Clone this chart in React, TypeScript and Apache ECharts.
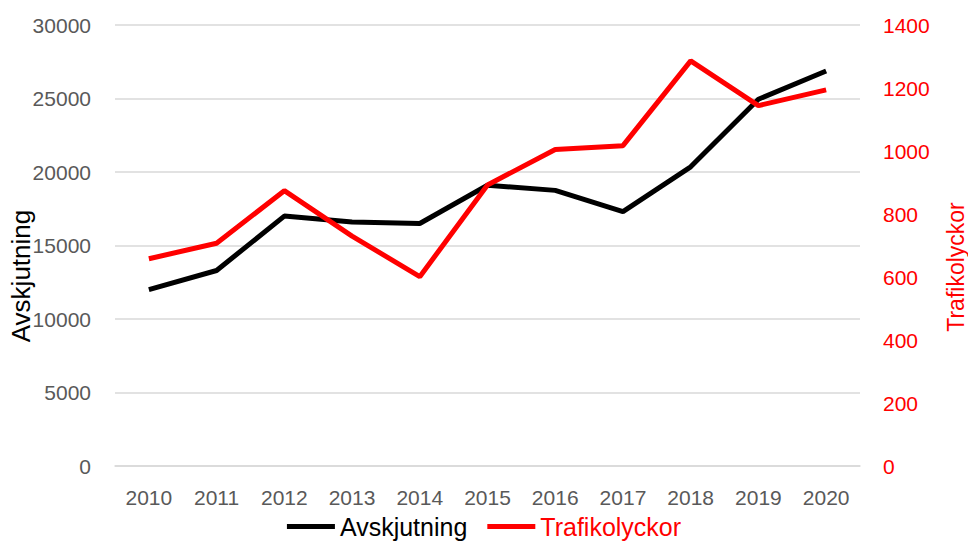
import React, { useEffect, useRef } from "react";
import * as echarts from "echarts";

const years = ["2010", "2011", "2012", "2013", "2014", "2015", "2016", "2017", "2018", "2019", "2020"];
const avskjutning = [12000, 13300, 17000, 16600, 16500, 19100, 18750, 17300, 20350, 24950, 26870];
const trafikolyckor = [658, 707, 874, 730, 601, 892, 1005, 1017, 1286, 1144, 1194];

const FONT = "'Liberation Sans', Arial, sans-serif";

export default function App() {
  const ref = useRef<HTMLDivElement>(null);
  useEffect(() => {
    if (!ref.current) return;
    const chart = echarts.init(ref.current, undefined, { renderer: "svg" });
    chart.setOption({
      animation: false,
      backgroundColor: "#ffffff",
      textStyle: { fontFamily: FONT },
      grid: { left: 115, right: 108, top: 25, bottom: 76, containLabel: false },
      legend: {
        top: 509,
        left: "center",
        icon: "rect",
        itemWidth: 48,
        itemHeight: 5,
        itemGap: 20,
        textStyle: { fontSize: 25, fontFamily: FONT },
        data: [
          { name: "Avskjutning", textStyle: { color: "#000000" } },
          { name: "Trafikolyckor", textStyle: { color: "#ff0000" } },
        ],
      },
      xAxis: {
        type: "category",
        data: years,
        boundaryGap: true,
        axisLine: { show: true, lineStyle: { color: "#d9d9d9", width: 1.5 } },
        axisTick: { show: false },
        axisLabel: { fontSize: 21, color: "#595959", margin: 21, fontFamily: FONT },
      },
      yAxis: [
        {
          type: "value",
          min: 0,
          max: 30000,
          interval: 5000,
          position: "left",
          axisLine: { show: false },
          axisTick: { show: false },
          splitLine: { lineStyle: { color: "#d9d9d9", width: 1.5 } },
          axisLabel: {
            fontSize: 21,
            color: "#595959",
            margin: 24,
            fontFamily: FONT,
            formatter: (v: number) => String(v),
          },
        },
        {
          type: "value",
          min: 0,
          max: 1400,
          interval: 200,
          position: "right",
          axisLine: { show: false },
          axisTick: { show: false },
          splitLine: { show: false },
          axisLabel: {
            fontSize: 21,
            color: "#ff0000",
            margin: 23,
            fontFamily: FONT,
            formatter: (v: number) => String(v),
          },
        },
      ],
      graphic: [
        {
          type: "text",
          x: 21,
          y: 276,
          rotation: Math.PI / 2,
          style: {
            text: "Avskjutning",
            fontSize: 26,
            fontFamily: FONT,
            fill: "#000000",
            align: "center",
            verticalAlign: "middle",
          },
        },
        {
          type: "text",
          x: 956,
          y: 267,
          rotation: Math.PI / 2,
          style: {
            text: "Trafikolyckor",
            fontSize: 23,
            fontFamily: FONT,
            fill: "#ff0000",
            align: "center",
            verticalAlign: "middle",
          },
        },
      ],
      series: [
        {
          name: "Avskjutning",
          type: "line",
          yAxisIndex: 0,
          data: avskjutning,
          symbol: "none",
          lineStyle: { color: "#000000", width: 5 },
          itemStyle: { color: "#000000" },
        },
        {
          name: "Trafikolyckor",
          type: "line",
          yAxisIndex: 1,
          data: trafikolyckor,
          symbol: "none",
          lineStyle: { color: "#ff0000", width: 5 },
          itemStyle: { color: "#ff0000" },
        },
      ],
    });
    return () => chart.dispose();
  }, []);
  return <div ref={ref} style={{ width: 968, height: 542, position: "absolute", left: 0, top: 0 }} />;
}
